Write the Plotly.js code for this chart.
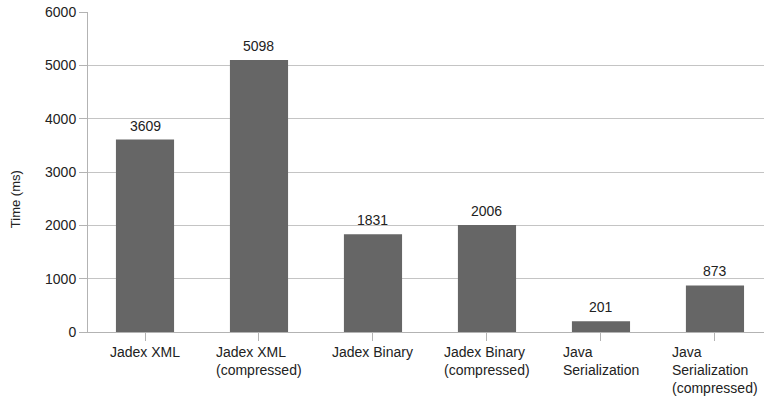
<!DOCTYPE html>
<html>
<head>
<meta charset="utf-8">
<script src="https://cdn.plot.ly/plotly-3.0.1.min.js"></script>
<style>html,body{margin:0;padding:0;background:#fff;}#chart{width:764px;height:396px;}</style>
</head>
<body>
<div id="chart"></div>
<script>
var categories = ["Jadex XML", "Jadex XML<br>(compressed)", "Jadex Binary", "Jadex Binary<br>(compressed)", "Java<br>Serialization", "Java<br>Serialization<br>(compressed)"];
var times = [3609, 5098, 1831, 2006, 201, 873];
var yTicks = [0, 1000, 2000, 3000, 4000, 5000, 6000];
var yTitle = "Time (ms)";

var font = "Liberation Sans, Arial, sans-serif";
var idx = categories.map(function(c, i){ return i; });

var trace = {
  type: "bar",
  x: idx,
  y: times,
  marker: {color: "#666666", line: {width: 0}},
  hoverinfo: "none"
};

var annotations = categories.map(function(c, i){
  return {
    xref: "x", yref: "paper", x: i, y: 0,
    xanchor: "center", yanchor: "top", yshift: -10,
    text: c, align: "left", showarrow: false,
    font: {family: font, size: 14, color: "#222"}
  };
});

times.forEach(function(v, i){
  annotations.push({
    xref: "x", yref: "y", x: i, y: v,
    xanchor: "center", yanchor: "bottom", yshift: 4,
    text: String(v), showarrow: false,
    font: {family: font, size: 14, color: "#222"}
  });
});

annotations.push({
  xref: "paper", yref: "paper", x: -0.108, y: 0.415,
  xanchor: "center", yanchor: "middle", textangle: -90,
  text: yTitle, showarrow: false,
  font: {family: font, size: 13, color: "#222"}
});

var layout = {
  width: 764, height: 396,
  margin: {l: 88, r: 0, t: 12, b: 64, pad: 0},
  paper_bgcolor: "#fff", plot_bgcolor: "#fff",
  bargap: 0.49,
  showlegend: false,
  font: {family: font, size: 14, color: "#222"},
  xaxis: {
    range: [-0.5, 5.43],
    tickmode: "array", tickvals: idx, ticktext: idx.map(function(){return "";}),
    showticklabels: false,
    tickson: "boundaries",
    ticks: "outside", ticklen: 8, tickcolor: "#b3b3b3", tickwidth: 1,
    showline: true, linecolor: "#b3b3b3", linewidth: 1,
    showgrid: false, zeroline: false, fixedrange: true
  },
  yaxis: {
    range: [0, 6000],
    tickmode: "array", tickvals: yTicks, ticktext: yTicks.map(String),
    ticks: "outside", ticklen: 8, tickcolor: "#b3b3b3", tickwidth: 1,
    tickfont: {family: font, size: 14, color: "#222"},
    showline: true, linecolor: "#b3b3b3", linewidth: 1,
    showgrid: true, gridcolor: "#c4c4c4", gridwidth: 1,
    zeroline: false, fixedrange: true,
    automargin: false
  },
  annotations: annotations
};

Plotly.newPlot("chart", [trace], layout, {displayModeBar: false, staticPlot: true});
</script>
</body>
</html>
